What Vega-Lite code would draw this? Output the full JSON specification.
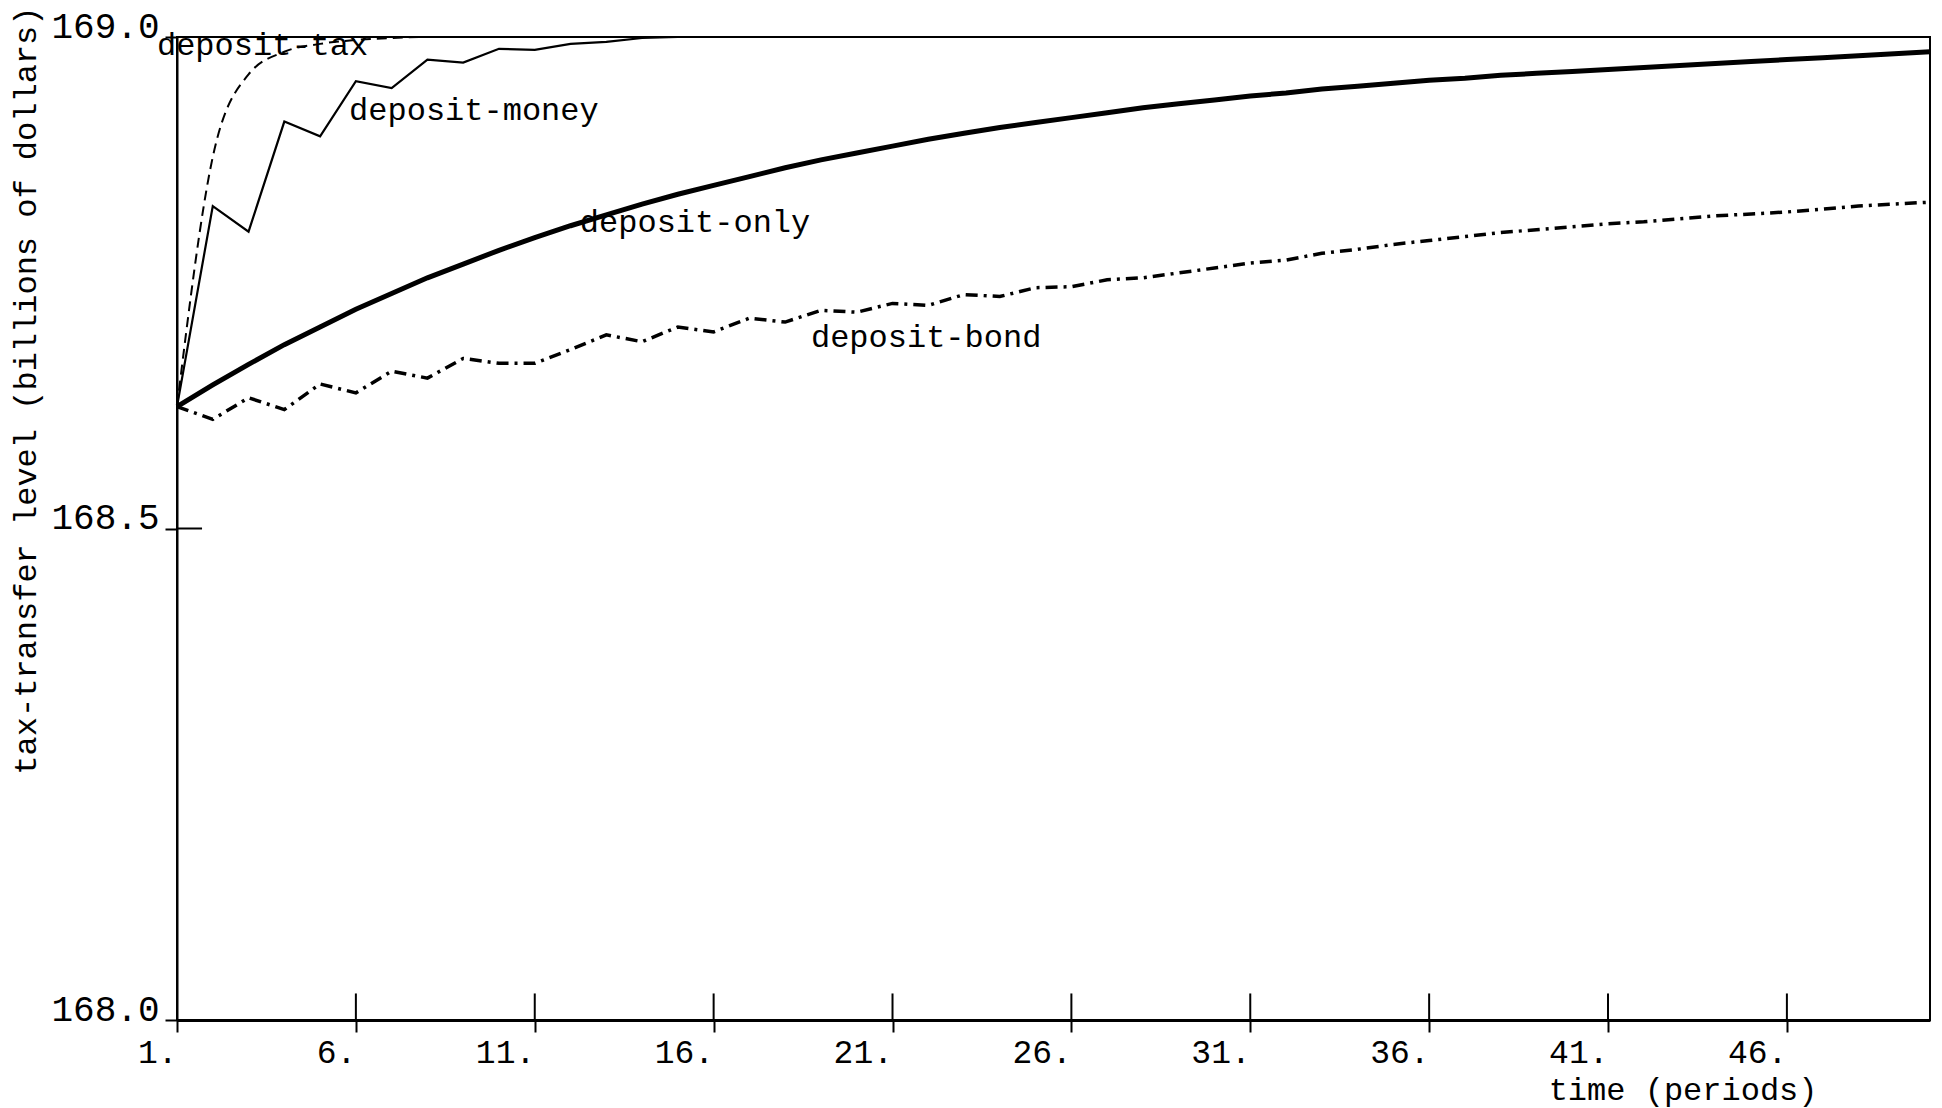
{
  "$schema": "https://vega.github.io/schema/vega-lite/v6.json",
  "width": 1753,
  "height": 983,
  "autosize": {"type": "none"},
  "padding": {"left": 177, "top": 37, "right": 12, "bottom": 88},
  "background": "white",
  "config": {
    "view": {"stroke": "black", "strokeWidth": 2},
    "font": "Liberation Mono"
  },
  "datasets": {
    "series": [
      {"series": "deposit-only", "period": 1, "value": 168.624},
      {"series": "deposit-only", "period": 2, "value": 168.646},
      {"series": "deposit-only", "period": 3, "value": 168.667},
      {"series": "deposit-only", "period": 4, "value": 168.687},
      {"series": "deposit-only", "period": 5, "value": 168.705},
      {"series": "deposit-only", "period": 6, "value": 168.723},
      {"series": "deposit-only", "period": 7, "value": 168.739},
      {"series": "deposit-only", "period": 8, "value": 168.755},
      {"series": "deposit-only", "period": 9, "value": 168.769},
      {"series": "deposit-only", "period": 10, "value": 168.783},
      {"series": "deposit-only", "period": 11, "value": 168.796},
      {"series": "deposit-only", "period": 12, "value": 168.808},
      {"series": "deposit-only", "period": 13, "value": 168.819},
      {"series": "deposit-only", "period": 14, "value": 168.830},
      {"series": "deposit-only", "period": 15, "value": 168.840},
      {"series": "deposit-only", "period": 16, "value": 168.849},
      {"series": "deposit-only", "period": 17, "value": 168.858},
      {"series": "deposit-only", "period": 18, "value": 168.867},
      {"series": "deposit-only", "period": 19, "value": 168.875},
      {"series": "deposit-only", "period": 20, "value": 168.882},
      {"series": "deposit-only", "period": 21, "value": 168.889},
      {"series": "deposit-only", "period": 22, "value": 168.896},
      {"series": "deposit-only", "period": 23, "value": 168.902},
      {"series": "deposit-only", "period": 24, "value": 168.908},
      {"series": "deposit-only", "period": 25, "value": 168.913},
      {"series": "deposit-only", "period": 26, "value": 168.918},
      {"series": "deposit-only", "period": 27, "value": 168.923},
      {"series": "deposit-only", "period": 28, "value": 168.928},
      {"series": "deposit-only", "period": 29, "value": 168.932},
      {"series": "deposit-only", "period": 30, "value": 168.936},
      {"series": "deposit-only", "period": 31, "value": 168.940},
      {"series": "deposit-only", "period": 32, "value": 168.943},
      {"series": "deposit-only", "period": 33, "value": 168.947},
      {"series": "deposit-only", "period": 34, "value": 168.950},
      {"series": "deposit-only", "period": 35, "value": 168.953},
      {"series": "deposit-only", "period": 36, "value": 168.956},
      {"series": "deposit-only", "period": 37, "value": 168.958},
      {"series": "deposit-only", "period": 38, "value": 168.961},
      {"series": "deposit-only", "period": 39, "value": 168.963},
      {"series": "deposit-only", "period": 40, "value": 168.965},
      {"series": "deposit-only", "period": 41, "value": 168.967},
      {"series": "deposit-only", "period": 42, "value": 168.969},
      {"series": "deposit-only", "period": 43, "value": 168.971},
      {"series": "deposit-only", "period": 44, "value": 168.973},
      {"series": "deposit-only", "period": 45, "value": 168.975},
      {"series": "deposit-only", "period": 46, "value": 168.977},
      {"series": "deposit-only", "period": 47, "value": 168.979},
      {"series": "deposit-only", "period": 48, "value": 168.981},
      {"series": "deposit-only", "period": 49, "value": 168.983},
      {"series": "deposit-only", "period": 50, "value": 168.985},

      {"series": "deposit-bond", "period": 1, "value": 168.624},
      {"series": "deposit-bond", "period": 2, "value": 168.611},
      {"series": "deposit-bond", "period": 3, "value": 168.633},
      {"series": "deposit-bond", "period": 4, "value": 168.621},
      {"series": "deposit-bond", "period": 5, "value": 168.647},
      {"series": "deposit-bond", "period": 6, "value": 168.638},
      {"series": "deposit-bond", "period": 7, "value": 168.660},
      {"series": "deposit-bond", "period": 8, "value": 168.653},
      {"series": "deposit-bond", "period": 9, "value": 168.673},
      {"series": "deposit-bond", "period": 10, "value": 168.668},
      {"series": "deposit-bond", "period": 11, "value": 168.668},
      {"series": "deposit-bond", "period": 12, "value": 168.682},
      {"series": "deposit-bond", "period": 13, "value": 168.697},
      {"series": "deposit-bond", "period": 14, "value": 168.690},
      {"series": "deposit-bond", "period": 15, "value": 168.705},
      {"series": "deposit-bond", "period": 16, "value": 168.700},
      {"series": "deposit-bond", "period": 17, "value": 168.714},
      {"series": "deposit-bond", "period": 18, "value": 168.710},
      {"series": "deposit-bond", "period": 19, "value": 168.722},
      {"series": "deposit-bond", "period": 20, "value": 168.720},
      {"series": "deposit-bond", "period": 21, "value": 168.729},
      {"series": "deposit-bond", "period": 22, "value": 168.727},
      {"series": "deposit-bond", "period": 23, "value": 168.738},
      {"series": "deposit-bond", "period": 24, "value": 168.736},
      {"series": "deposit-bond", "period": 25, "value": 168.745},
      {"series": "deposit-bond", "period": 26, "value": 168.746},
      {"series": "deposit-bond", "period": 27, "value": 168.753},
      {"series": "deposit-bond", "period": 28, "value": 168.755},
      {"series": "deposit-bond", "period": 29, "value": 168.760},
      {"series": "deposit-bond", "period": 30, "value": 168.765},
      {"series": "deposit-bond", "period": 31, "value": 168.770},
      {"series": "deposit-bond", "period": 32, "value": 168.773},
      {"series": "deposit-bond", "period": 33, "value": 168.780},
      {"series": "deposit-bond", "period": 34, "value": 168.784},
      {"series": "deposit-bond", "period": 35, "value": 168.789},
      {"series": "deposit-bond", "period": 36, "value": 168.793},
      {"series": "deposit-bond", "period": 37, "value": 168.797},
      {"series": "deposit-bond", "period": 38, "value": 168.801},
      {"series": "deposit-bond", "period": 39, "value": 168.804},
      {"series": "deposit-bond", "period": 40, "value": 168.807},
      {"series": "deposit-bond", "period": 41, "value": 168.810},
      {"series": "deposit-bond", "period": 42, "value": 168.812},
      {"series": "deposit-bond", "period": 43, "value": 168.815},
      {"series": "deposit-bond", "period": 44, "value": 168.818},
      {"series": "deposit-bond", "period": 45, "value": 168.820},
      {"series": "deposit-bond", "period": 46, "value": 168.822},
      {"series": "deposit-bond", "period": 47, "value": 168.825},
      {"series": "deposit-bond", "period": 48, "value": 168.828},
      {"series": "deposit-bond", "period": 49, "value": 168.830},
      {"series": "deposit-bond", "period": 50, "value": 168.832},

      {"series": "deposit-money", "period": 1, "value": 168.624},
      {"series": "deposit-money", "period": 2, "value": 168.828},
      {"series": "deposit-money", "period": 3, "value": 168.802},
      {"series": "deposit-money", "period": 4, "value": 168.914},
      {"series": "deposit-money", "period": 5, "value": 168.899},
      {"series": "deposit-money", "period": 6, "value": 168.955},
      {"series": "deposit-money", "period": 7, "value": 168.948},
      {"series": "deposit-money", "period": 8, "value": 168.977},
      {"series": "deposit-money", "period": 9, "value": 168.974},
      {"series": "deposit-money", "period": 10, "value": 168.988},
      {"series": "deposit-money", "period": 11, "value": 168.987},
      {"series": "deposit-money", "period": 12, "value": 168.993},
      {"series": "deposit-money", "period": 13, "value": 168.995},
      {"series": "deposit-money", "period": 14, "value": 168.999},
      {"series": "deposit-money", "period": 15, "value": 169.0},
      {"series": "deposit-money", "period": 20, "value": 169.0},
      {"series": "deposit-money", "period": 30, "value": 169.0},
      {"series": "deposit-money", "period": 40, "value": 169.0},
      {"series": "deposit-money", "period": 50, "value": 169.0},

      {"series": "deposit-tax", "period": 1, "value": 168.624},
      {"series": "deposit-tax", "period": 2, "value": 168.878},
      {"series": "deposit-tax", "period": 3, "value": 168.962},
      {"series": "deposit-tax", "period": 4, "value": 168.985},
      {"series": "deposit-tax", "period": 5, "value": 168.993},
      {"series": "deposit-tax", "period": 6, "value": 168.997},
      {"series": "deposit-tax", "period": 7, "value": 168.999},
      {"series": "deposit-tax", "period": 8, "value": 169.0},
      {"series": "deposit-tax", "period": 20, "value": 169.0},
      {"series": "deposit-tax", "period": 35, "value": 169.0},
      {"series": "deposit-tax", "period": 50, "value": 169.0}
    ],
    "labels": [
      {"label": "deposit-tax", "period": 0.44, "value": 168.982},
      {"label": "deposit-money", "period": 5.81, "value": 168.916},
      {"label": "deposit-only", "period": 12.26, "value": 168.802},
      {"label": "deposit-bond", "period": 18.72, "value": 168.685}
    ]
  },
  "layer": [
    {
      "data": {"name": "series"},
      "transform": [{"filter": "datum.series === 'deposit-bond'"}],
      "mark": {"type": "line", "color": "black", "strokeWidth": 3.5, "strokeDash": [12, 6, 3, 6]},
      "encoding": {
        "x": {
          "field": "period",
          "type": "quantitative",
          "scale": {"domain": [1, 50], "nice": false, "zero": false},
          "axis": {
            "values": [1, 6, 11, 16, 21, 26, 31, 36, 41, 46],
            "labelExpr": "datum.value + '.'",
            "labelAlign": "right",
            "labelFlush": false,
            "labelOverlap": false,
            "labelFont": "Liberation Mono",
            "labelFontSize": 33,
            "labelColor": "black",
            "labelPadding": 4,
            "ticks": true,
            "tickSize": 12,
            "tickWidth": 2,
            "tickColor": "black",
            "grid": false,
            "domainColor": "black",
            "domainWidth": 3,
            "title": "time (periods)",
            "titleFont": "Liberation Mono",
            "titleFontSize": 32,
            "titleFontWeight": "normal",
            "titleColor": "black",
            "titleAlign": "right",
            "titleBaseline": "alphabetic",
            "titleX": 1640,
            "titleY": 79
          }
        },
        "y": {
          "field": "value",
          "type": "quantitative",
          "scale": {"domain": [168, 169], "nice": false, "zero": false},
          "axis": {
            "values": [168, 168.5, 169],
            "format": ".1f",
            "labelBaseline": "alphabetic",
            "labelFlush": false,
            "labelOverlap": false,
            "labelFont": "Liberation Mono",
            "labelFontSize": 36,
            "labelColor": "black",
            "labelPadding": 6,
            "ticks": true,
            "tickSize": 12,
            "tickWidth": 2,
            "tickColor": "black",
            "grid": false,
            "domainColor": "black",
            "domainWidth": 2,
            "title": "tax-transfer level (billions of dollars)",
            "titleFont": "Liberation Mono",
            "titleFontSize": 32,
            "titleFontWeight": "normal",
            "titleColor": "black",
            "titleAngle": -90,
            "titleAlign": "right",
            "titleBaseline": "alphabetic",
            "titleX": -142,
            "titleY": -31
          }
        }
      }
    },
    {
      "data": {"name": "series"},
      "transform": [{"filter": "datum.series === 'deposit-only'"}],
      "mark": {"type": "line", "color": "black", "strokeWidth": 5},
      "encoding": {
        "x": {"field": "period", "type": "quantitative"},
        "y": {"field": "value", "type": "quantitative"}
      }
    },
    {
      "data": {"name": "series"},
      "transform": [{"filter": "datum.series === 'deposit-money'"}],
      "mark": {"type": "line", "color": "black", "strokeWidth": 2.2},
      "encoding": {
        "x": {"field": "period", "type": "quantitative"},
        "y": {"field": "value", "type": "quantitative"}
      }
    },
    {
      "data": {"name": "series"},
      "transform": [{"filter": "datum.series === 'deposit-tax'"}],
      "mark": {"type": "line", "color": "black", "strokeWidth": 2, "strokeDash": [10, 6], "interpolate": "monotone"},
      "encoding": {
        "x": {"field": "period", "type": "quantitative"},
        "y": {"field": "value", "type": "quantitative"}
      }
    },
    {
      "data": {"name": "labels"},
      "mark": {"type": "text", "align": "left", "baseline": "alphabetic", "font": "Liberation Mono", "fontSize": 32, "color": "black"},
      "encoding": {
        "x": {"field": "period", "type": "quantitative"},
        "y": {"field": "value", "type": "quantitative"},
        "text": {"field": "label"}
      }
    },
    {
      "data": {"values": [
        {"period": 1}, {"period": 6}, {"period": 11}, {"period": 16}, {"period": 21},
        {"period": 26}, {"period": 31}, {"period": 36}, {"period": 41}, {"period": 46}
      ]},
      "mark": {"type": "rule", "color": "black", "strokeWidth": 2},
      "encoding": {
        "x": {"field": "period", "type": "quantitative"},
        "y": {"datum": 168},
        "y2": {"datum": 168.027}
      }
    },
    {
      "data": {"values": [{"value": 168.0}, {"value": 168.5}, {"value": 169.0}]},
      "mark": {"type": "rule", "color": "black", "strokeWidth": 2},
      "encoding": {
        "y": {"field": "value", "type": "quantitative"},
        "x": {"datum": 1},
        "x2": {"datum": 1.7}
      }
    }
  ]
}
